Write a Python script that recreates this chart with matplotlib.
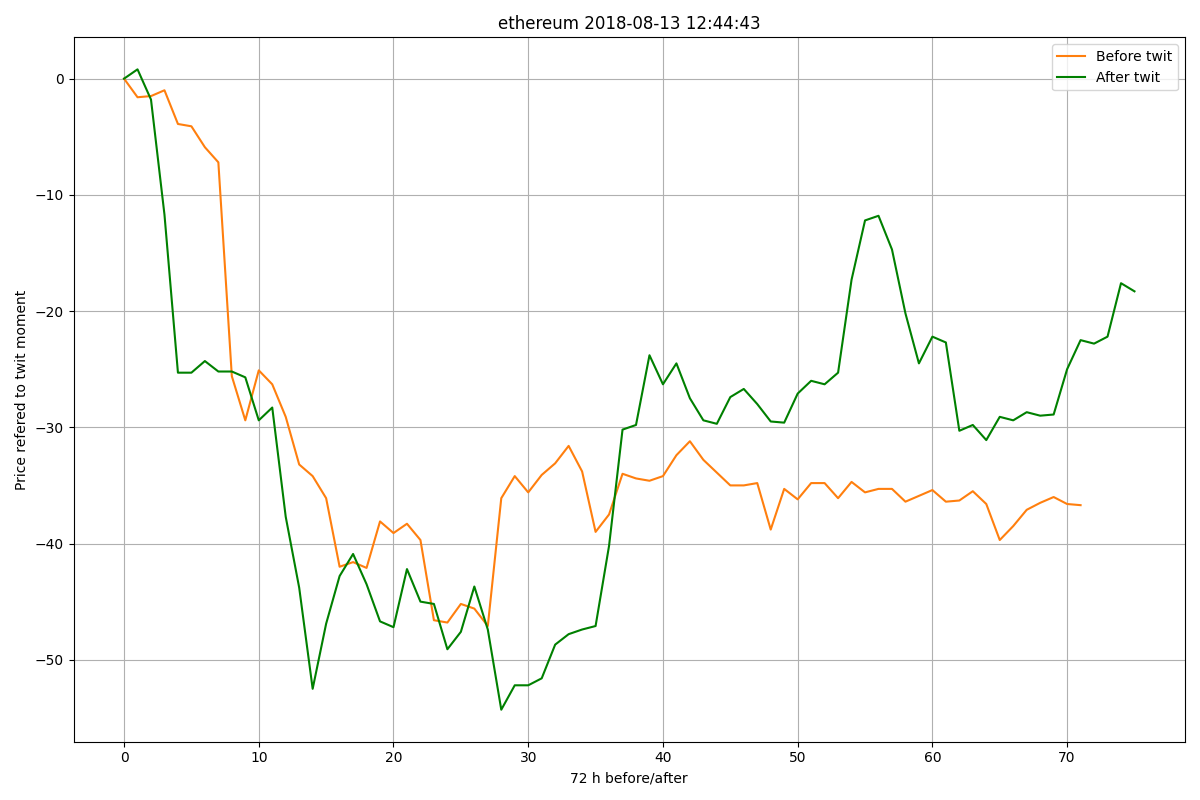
import numpy as np
import matplotlib
matplotlib.use("Agg")
import matplotlib.pyplot as plt

before = [0, -1.6, -1.5, -1.0, -3.9, -4.1, -5.9, -7.2, -25.6, -29.4,
          -25.1, -26.3, -29.1, -33.2, -34.2, -36.1, -42.0, -41.6, -42.1, -38.1,
          -39.1, -38.3, -39.7, -46.6, -46.8, -45.2, -45.6, -47.1, -36.1, -34.2,
          -35.6, -34.1, -33.1, -31.6, -33.8, -39.0, -37.5, -34.0, -34.4, -34.6,
          -34.2, -32.4, -31.2, -32.8, -33.9, -35.0, -35.0, -34.8, -38.8, -35.3,
          -36.2, -34.8, -34.8, -36.1, -34.7, -35.6, -35.3, -35.3, -36.4, -35.9,
          -35.4, -36.4, -36.3, -35.5, -36.6, -39.7, -38.5, -37.1, -36.5, -36.0,
          -36.6, -36.7]
after = [0, 0.8, -1.8, -11.7, -25.3, -25.3, -24.3, -25.2, -25.2, -25.7,
         -29.4, -28.3, -37.7, -43.8, -52.5, -46.9, -42.8, -40.9, -43.5, -46.7,
         -47.2, -42.2, -45.0, -45.2, -49.1, -47.6, -43.7, -47.4, -54.3, -52.2,
         -52.2, -51.6, -48.7, -47.8, -47.4, -47.1, -40.2, -30.2, -29.8, -23.8,
         -26.3, -24.5, -27.5, -29.4, -29.7, -27.4, -26.7, -28.0, -29.5, -29.6,
         -27.1, -26.0, -26.3, -25.3, -17.3, -12.2, -11.8, -14.7, -20.2, -24.5,
         -22.2, -22.7, -30.3, -29.8, -31.1, -29.1, -29.4, -28.7, -29.0, -28.9,
         -25.0, -22.5, -22.8, -22.2, -17.6, -18.3]

fig, ax = plt.subplots(figsize=(12, 8), dpi=100)
ax.plot(np.arange(len(before)), before, color="#ff7f0e", label="Before twit")
ax.plot(np.arange(len(after)), after, color="green", label="After twit")
ax.set_title("ethereum 2018-08-13 12:44:43")
ax.set_xlabel("72 h before/after")
ax.set_ylabel("Price refered to twit moment")
ax.grid(True)
ax.legend(loc="upper right")
fig.tight_layout()
fig.savefig("out.png")
